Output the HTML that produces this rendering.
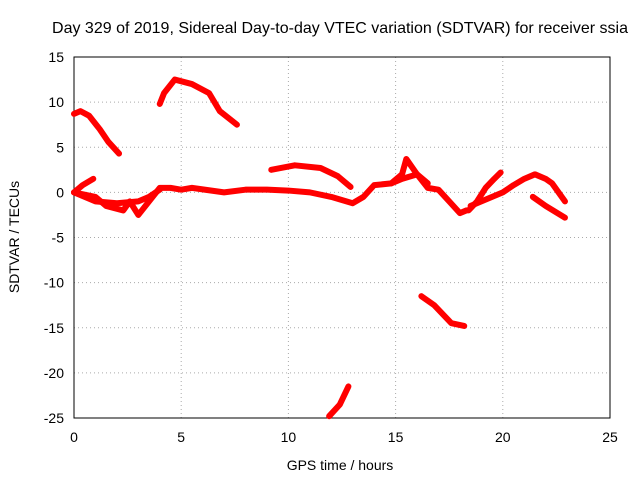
<!DOCTYPE html>
<html><head><meta charset="utf-8"><style>body{margin:0;background:#fff}svg{display:block;font-family:"Liberation Sans",sans-serif}</style></head>
<body>
<svg id="chart" width="640" height="480" viewBox="0 0 640 480">
<text x="340" y="33" font-size="16" text-anchor="middle">Day 329 of 2019, Sidereal Day-to-day VTEC variation (SDTVAR) for receiver ssia</text>
<g id="grid"></g><g id="ticks" font-size="14"></g>
<rect x="74" y="57" width="536" height="361" fill="none" stroke="#000" stroke-width="1"/>
<g id="series"></g>
<text x="340" y="470" font-size="14" text-anchor="middle">GPS time / hours</text>
<text x="19" y="237" font-size="14" text-anchor="middle" transform="rotate(-90 19 237)">SDTVAR / TECUs</text>
</svg>
<script>
const xTicks=[0,5,10,15,20,25];
const yTicks=[15,10,5,0,-5,-10,-15,-20,-25];
const arcA=[[0,8.7],[0.3,9],[0.7,8.5],[1.2,7],[1.6,5.6],[2.1,4.3]];
const arcB=[[4,9.8],[4.2,11],[4.7,12.5],[5.5,12],[6.3,11],[6.8,9],[7.6,7.5]];
const arcC=[[9.2,2.5],[10.3,3],[11.5,2.7],[12.3,1.8],[12.9,0.6]];
const arcD=[[11.9,-24.8],[12.4,-23.5],[12.8,-21.5]];
const arcE=[[16.2,-11.5],[16.8,-12.5],[17.6,-14.5],[18.2,-14.8]];
const arcF=[[21.4,-0.5],[22,-1.5],[22.9,-2.8]];
const arcUp=[[0,0],[0.4,0.8],[0.9,1.5]];
const arcMain=[[0,0],[1,-0.5],[1.5,-1.5],[2.3,-2],[2.6,-1],[3,-2.5],[3.5,-1],[4,0.5],[4.5,0.5],[5,0.3],[5.5,0.5],[7,0],[8,0.3],[9,0.3],[10,0.2],[11,0],[12,-0.5],[13,-1.2],[13.5,-0.5],[14,0.8],[14.8,1],[15.3,2],[15.5,3.7],[16,2],[16.5,0.5],[17,0.3],[17.5,-1],[18,-2.3],[18.3,-2]];
const arcLow=[[0,0],[1,-1],[2,-1.2],[3,-1],[3.5,-0.5],[4,0.3]];
const arcMid=[[14.8,1],[15.3,1.5],[16,2],[16.5,1]];
const arcG=[[18.4,-2],[18.8,-1],[19.2,0.5],[19.6,1.5],[19.9,2.2]];
const arcH=[[18.5,-1.5],[19.5,-0.5],[20,0],[20.5,0.8],[21,1.5],[21.5,2],[22,1.5],[22.3,1],[22.9,-1]];
const allSeries=[arcA,arcB,arcC,arcD,arcE,arcF,arcUp,arcMain,arcLow,arcMid,arcG,arcH];
const NS="http://www.w3.org/2000/svg";
const X=v=>74+v*(536/25), Y=v=>57+(15-v)*(361/40);
const grid=document.getElementById('grid'),ticks=document.getElementById('ticks'),ser=document.getElementById('series');
function mk(t,a,p){const e=document.createElementNS(NS,t);for(const k in a)e.setAttribute(k,a[k]);p.appendChild(e);return e;}
xTicks.forEach(v=>{
 const g=mk('line',{x1:X(v),x2:X(v),y1:57,y2:418,stroke:'#aaa','stroke-dasharray':'1,3'},grid);
 
 
 const t=mk('text',{x:X(v),y:442,'text-anchor':'middle'},ticks);t.textContent=v;
 
 
});
yTicks.forEach(v=>{
 const g=mk('line',{x1:74,x2:610,y1:Y(v),y2:Y(v),stroke:'#aaa','stroke-dasharray':'1,3'},grid);
 
 
 const t=mk('text',{x:64,y:Y(v)+5,'text-anchor':'end'},ticks);t.textContent=v;
 
 
});
allSeries.forEach(s=>{
 const p=mk('polyline',{points:s.map(d=>X(d[0])+','+Y(d[1])).join(' '),fill:'none',stroke:'#f00','stroke-width':6,'stroke-linejoin':'round','stroke-linecap':'round'},ser);
 
 
});
</script>
</body></html>
